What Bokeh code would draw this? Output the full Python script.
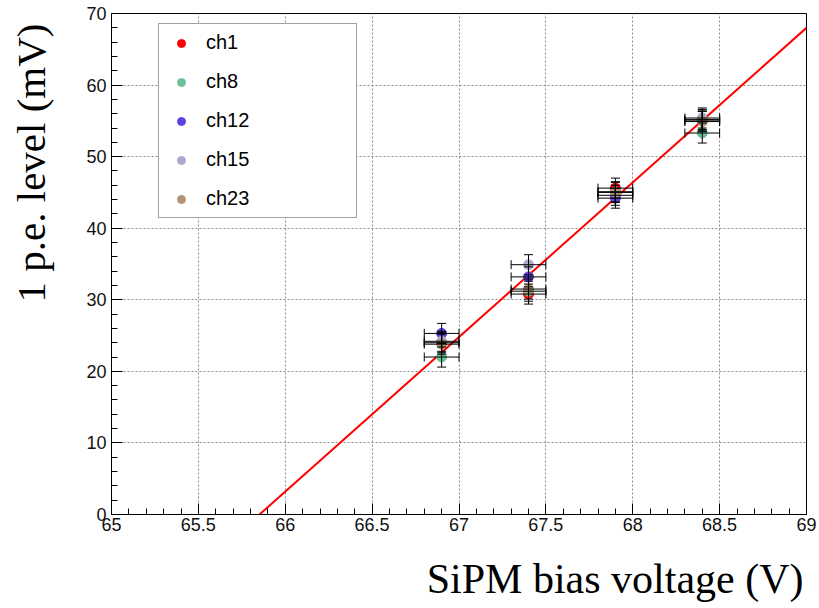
from bokeh.plotting import figure
from bokeh.models import (ColumnDataSource, Whisker, TeeHead, Legend, LegendItem, Title,
                          LinearAxis, FixedTicker, SingleIntervalTicker, Range1d,
                          CustomJSTickFormatter)
from bokeh.embed import file_html
from bokeh.resources import INLINE

# Bias voltage settings (V) and their uncertainty
voltage = [66.9, 67.4, 67.9, 68.4]
voltage_err = [0.1, 0.1, 0.1, 0.1]

# 1 p.e. level (mV) per channel
channels = ["ch1", "ch8", "ch12", "ch15", "ch23"]
level_ch1 = [24.0, 30.8, 45.6, 55.2]
level_ch8 = [22.0, 31.2, 44.6, 53.3]
level_ch12 = [25.3, 33.2, 44.2, 55.0]
level_ch15 = [24.2, 34.9, 45.0, 55.4]
level_ch23 = [23.8, 31.5, 45.1, 54.9]
level_err = [1.4, 1.4, 1.4, 1.4]

# Linear fit: level = p0 + p1 * V
fit_p0 = -1422.4
fit_p1 = 21.6
fit_xmax = 69.0

colors = ["#ff0000", "#6cc09a", "#6040e0", "#a9a9c9", "#b09476"]
levels = [level_ch1, level_ch8, level_ch12, level_ch15, level_ch23]

p = figure(width=819, height=608, output_backend="svg", toolbar_location=None,
           x_range=Range1d(65, 69), y_range=Range1d(0, 70),
           min_border_left=111, min_border_right=13, min_border_top=13,
           min_border_bottom=94, background_fill_color="white",
           border_fill_color="white")

p.outline_line_color = "black"
p.outline_line_width = 1

p.xaxis.ticker = SingleIntervalTicker(interval=0.5, num_minor_ticks=5)
p.yaxis.ticker = SingleIntervalTicker(interval=10, num_minor_ticks=5)
p.xaxis.formatter = CustomJSTickFormatter(code="return String(Math.round(tick * 10) / 10);")
p.yaxis.formatter = CustomJSTickFormatter(code="return String(Math.round(tick));")

for ax in (p.xaxis[0], p.yaxis[0]):
    ax.major_tick_in = 11
    ax.major_tick_out = 0
    ax.minor_tick_in = 6
    ax.minor_tick_out = 0
    ax.axis_line_color = "black"
    ax.major_tick_line_color = "black"
    ax.minor_tick_line_color = "black"
    ax.major_label_text_font = "Liberation Sans"
    ax.major_label_text_font_size = "18px"
    ax.major_label_text_color = "#111111"
p.xaxis.major_label_standoff = 3
p.yaxis.major_label_standoff = 5


def gap_axis(size, tick):
    """Blank axis (one hidden tick, no label) that reserves a fixed-size gap
    between the tick labels and the axis title."""
    return LinearAxis(ticker=FixedTicker(ticks=[tick], minor_ticks=[]),
                      formatter=CustomJSTickFormatter(code="return '';"),
                      axis_line_color=None, major_tick_line_color=None,
                      minor_tick_line_color=None, major_tick_in=0,
                      major_tick_out=size, minor_tick_in=0, minor_tick_out=0,
                      major_label_standoff=0, major_label_text_font_size="1px",
                      axis_label_standoff=0)


p.add_layout(gap_axis(20, 67.0), "below")
p.add_layout(gap_axis(30, 35.0), "left")

# Axis titles, right-aligned at the high end of each axis
xtitle = Title(text="SiPM bias voltage (V)", align="right", offset=3, standoff=0,
               vertical_align="bottom", text_font="Liberation Serif",
               text_font_size="42px", text_font_style="normal", text_color="black")
ytitle = Title(text="1 p.e. level (mV)", align="right", offset=10, standoff=0,
               vertical_align="bottom", text_font="Liberation Serif",
               text_font_size="41px", text_font_style="normal", text_color="black")
p.add_layout(xtitle, "below")
p.add_layout(ytitle, "left")

p.grid.grid_line_color = "#8a8a8a"
p.grid.grid_line_dash = "2 2"
p.grid.grid_line_width = 1

# Fitted line
fit_x = [-fit_p0 / fit_p1, fit_xmax]
fit_y = [fit_p0 + fit_p1 * x for x in fit_x]
p.line(fit_x, fit_y, line_color="red", line_width=2)

items = []
for name, lev, col in zip(channels, levels, colors):
    src = ColumnDataSource(dict(
        x=voltage, y=lev,
        xl=[v - e for v, e in zip(voltage, voltage_err)],
        xu=[v + e for v, e in zip(voltage, voltage_err)],
        yl=[l - e for l, e in zip(lev, level_err)],
        yu=[l + e for l, e in zip(lev, level_err)],
    ))
    wx = Whisker(source=src, base="y", lower="xl", upper="xu", dimension="width",
                 line_color="black", line_width=1, level="glyph",
                 upper_head=TeeHead(size=9, line_color="black", line_width=1),
                 lower_head=TeeHead(size=9, line_color="black", line_width=1))
    wy = Whisker(source=src, base="x", lower="yl", upper="yu", dimension="height",
                 line_color="black", line_width=1, level="glyph",
                 upper_head=TeeHead(size=9, line_color="black", line_width=1),
                 lower_head=TeeHead(size=9, line_color="black", line_width=1))
    p.add_layout(wx)
    p.add_layout(wy)
    r = p.scatter("x", "y", source=src, size=10, marker="circle",
                  fill_color=col, line_color=col)
    items.append(LegendItem(label=name, renderers=[r]))

legend = Legend(items=items, location=(47, 296), orientation="vertical",
                label_text_font="Liberation Sans", label_text_font_size="20px",
                label_text_color="black", glyph_width=30, glyph_height=20,
                label_height=20, label_standoff=10, label_width=143,
                spacing=16, padding=7, margin=0,
                border_line_color="#444444", border_line_width=1.5,
                background_fill_color="white", background_fill_alpha=1.0)
p.add_layout(legend, "center")

open("out.html", "w").write(file_html(p, INLINE))
